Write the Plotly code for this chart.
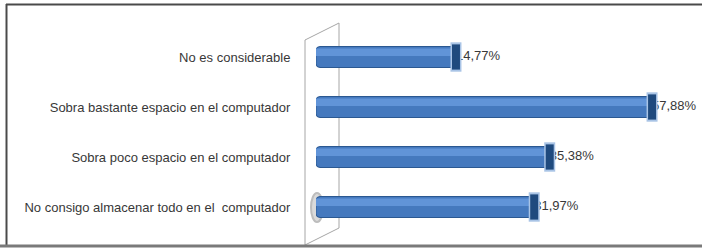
import plotly.graph_objects as go

# ---- data (top to bottom as in the reference) ----
categories = [
    "No es considerable",
    "Sobra bastante espacio en el computador",
    "Sobra poco espacio en el computador",
    "No consigo almacenar todo en el  computador",
]
values = [14.77, 57.88, 35.38, 31.97]
value_labels = [f"{v:.2f}".replace(".", ",") + "%" for v in values]

AXIS_MIN = -16   # bars start at the (non-zero) axis minimum, as in the original 3D chart
AXIS_MAX = 66

W, H = 702, 248
ML, MR, MT, MB = 316, 13, 32, 16
PW, PH = W - ML - MR, H - MT - MB

def px(x):
    return (x - ML) / PW

def py(y):
    return (H - MB - y) / PH

lengths = [v - AXIS_MIN for v in values]
font_family = "Liberation Sans, Arial, sans-serif"

fig = go.Figure()

# cylinder body
fig.add_trace(go.Bar(
    y=categories, x=lengths, base=AXIS_MIN, orientation="h",
    width=0.42,
    marker=dict(color="#4579be", line=dict(color="#2b5891", width=1), cornerradius=4),
    hoverinfo="skip", showlegend=False,
))
# highlight along the top of the cylinder
fig.add_trace(go.Bar(
    y=categories, x=lengths, base=AXIS_MIN, orientation="h",
    width=0.15, offset=-0.17,
    marker=dict(color="#6194d8", line=dict(width=0)),
    hoverinfo="skip", showlegend=False,
))
# value labels (partly hidden behind the end caps, like the original)
fig.add_trace(go.Scatter(
    y=categories, x=values, mode="text", text=value_labels,
    textposition="middle right", cliponaxis=False,
    textfont=dict(family=font_family, size=13, color="#383838"),
    hoverinfo="skip", showlegend=False,
))
# end caps: light rim + dark face
fig.add_trace(go.Scatter(
    y=categories, x=values, mode="markers", cliponaxis=False,
    marker=dict(symbol="line-ns", size=21, line=dict(width=11, color="#a9c4e6")),
    hoverinfo="skip", showlegend=False,
))
fig.add_trace(go.Scatter(
    y=categories, x=values, mode="markers", cliponaxis=False,
    marker=dict(symbol="line-ns", size=18, line=dict(width=8, color="#1f4a7e")),
    hoverinfo="skip", showlegend=False,
))

shapes = [
    # outer frame
    dict(type="line", xref="paper", yref="paper", x0=px(6), x1=px(704), y0=py(4.5), y1=py(4.5),
         line=dict(color="#4a4a4a", width=2)),
    dict(type="line", xref="paper", yref="paper", x0=px(6.5), x1=px(6.5), y0=py(4), y1=py(246),
         line=dict(color="#4a4a4a", width=2)),
    dict(type="line", xref="paper", yref="paper", x0=px(-2), x1=px(704), y0=py(246), y1=py(246),
         line=dict(color="#7a7a7a", width=3)),
    # side wall of the 3D chart
    dict(type="path", xref="paper", yref="paper", layer="below",
         path=f"M {px(305)} {py(40)} L {px(339)} {py(23)} L {px(339)} {py(228)} L {px(305)} {py(245)} Z",
         line=dict(color="#a6a6a6", width=1), fillcolor="rgba(255,255,255,0)"),
    # soft shadow at the start of the last bar
    dict(type="circle", xref="paper", yref="paper", layer="below",
         x0=px(311), x1=px(323), y0=py(193), y1=py(222),
         line=dict(color="#bdbdbd", width=2), fillcolor="#dadada"),
]

fig.update_layout(
    width=W, height=H,
    margin=dict(l=ML, r=MR, t=MT, b=MB),
    paper_bgcolor="white", plot_bgcolor="white",
    barmode="overlay",
    shapes=shapes,
    xaxis=dict(range=[AXIS_MIN, AXIS_MAX], visible=False, showgrid=False, zeroline=False, fixedrange=True),
    yaxis=dict(autorange="reversed", showgrid=False, zeroline=False, showline=False,
               ticks="outside", ticklen=22, tickcolor="rgba(0,0,0,0)",
               tickfont=dict(family=font_family, size=13, color="#383838"),
               fixedrange=True),
)

fig.write_html("out.html", config={"displayModeBar": False},
               post_script="document.body.style.margin='0';document.body.style.overflow='hidden';")
